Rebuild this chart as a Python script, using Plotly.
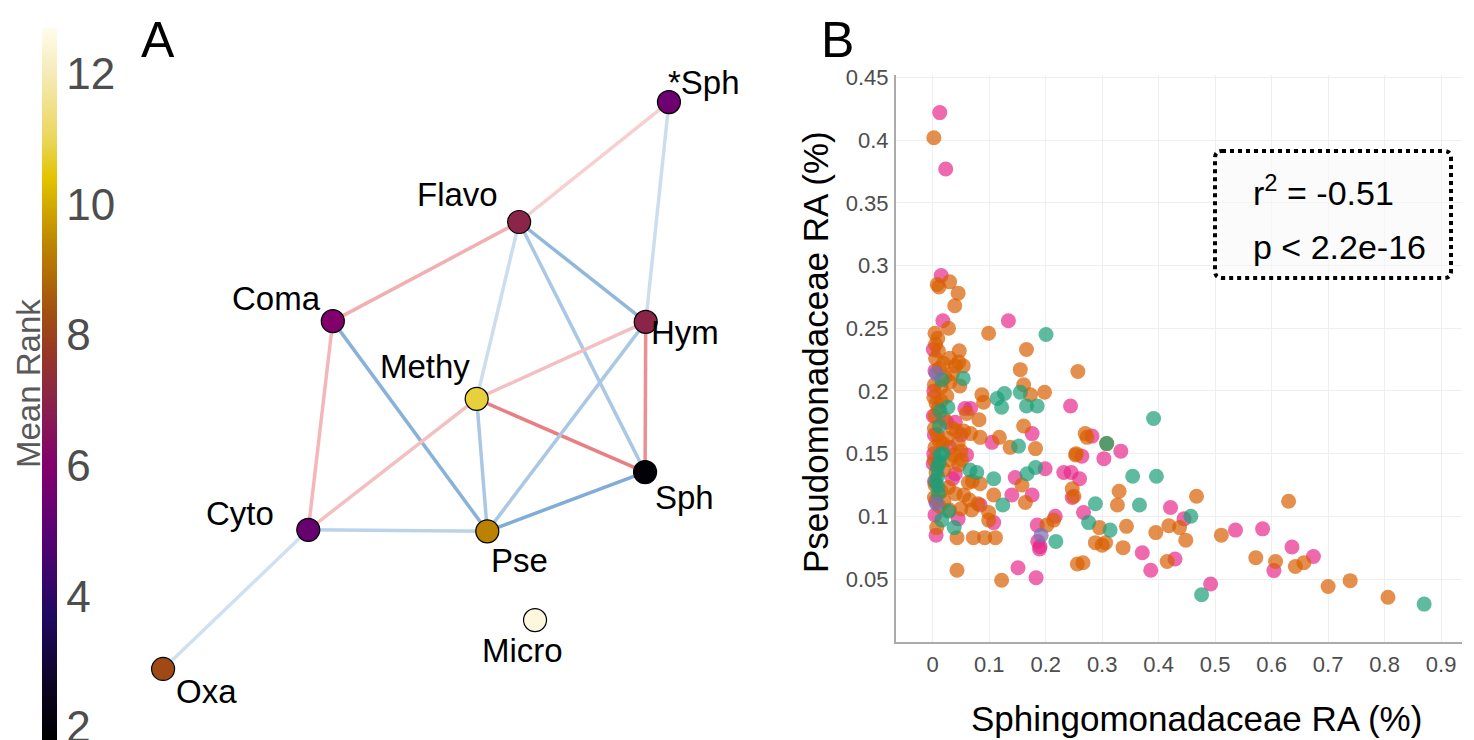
import plotly.graph_objects as go

W, H = 1474, 740
FONT = "Liberation Sans, Arial, sans-serif"
GREY = "#4d4d4d"

# ---------------- Panel A: co-occurrence network ----------------
node_names = ["*Sph", "Flavo", "Coma", "Hym", "Methy", "Sph", "Cyto", "Pse", "Micro", "Oxa"]
node_x = [0.831, 0.605, 0.324, 0.796, 0.541, 0.795, 0.287, 0.557, 0.629, 0.068]
node_y = [0.862, 0.700, 0.566, 0.565, 0.461, 0.362, 0.284, 0.282, 0.162, 0.096]
mean_rank = [5.5, 7.0, 6.0, 7.0, 10.8, 2.0, 5.3, 9.3, 12.5, 8.2]

edge_from = ["*Sph", "*Sph", "Flavo", "Flavo", "Flavo", "Flavo", "Coma", "Coma", "Methy",
             "Methy", "Methy", "Methy", "Hym", "Hym", "Sph", "Cyto", "Cyto"]
edge_to = ["Flavo", "Hym", "Coma", "Methy", "Hym", "Sph", "Cyto", "Pse", "Hym",
           "Cyto", "Pse", "Sph", "Sph", "Pse", "Pse", "Pse", "Oxa"]
edge_corr = [0.30, -0.30, 0.50, -0.30, -0.65, -0.50, 0.45, -0.70, 0.40,
             0.40, -0.50, 0.80, 0.70, -0.50, -0.75, -0.40, -0.28]

# label placement (anchor, x offset px, y offset px)
label_pos = {
    "*Sph": ("left", -3, 20), "Flavo": ("right", -19, 28), "Coma": ("right", -10, 23),
    "Hym": ("left", 3, -11), "Methy": ("right", -5, 32), "Sph": ("left", 8, -25),
    "Cyto": ("right", -32, 16), "Pse": ("left", 2, -29), "Micro": ("center", -13, -30),
    "Oxa": ("left", 11, -23),
}

rank_min, rank_max = 1.8, 12.7
rank_stops = [1.8, 2.6, 3.7, 5.0, 6.0, 7.0, 7.8, 8.4, 9.4, 10.4, 11.0, 12.0, 12.7]
rank_colors = ["#000000", "#0b0420", "#1f0a62", "#5a0272", "#82006c", "#8a2448",
               "#983a22", "#a35210", "#bd8600", "#e2c400", "#ebd65a", "#f6eab8", "#fffcec"]
colorscale = [[(v - rank_min) / (rank_max - rank_min), c] for v, c in zip(rank_stops, rank_colors)]

# ---------------- Panel B: relative abundance scatter ----------------
grp1 = [(0.2006, 0.245), (0.016, 0.209), (0.054, 0.210), (0.114, 0.194), (0.127, 0.198), (0.122, 0.187),
        (0.155, 0.199), (0.166, 0.188), (0.185, 0.188), (0.013, 0.184), (0.027, 0.187), (0.012, 0.172),
        (0.152, 0.156), (0.013, 0.149), (0.018, 0.150), (0.066, 0.137), (0.078, 0.135), (0.108, 0.130),
        (0.167, 0.134), (0.182, 0.139), (0.010, 0.118), (0.124, 0.109), (0.028, 0.104), (0.016, 0.097),
        (0.038, 0.091), (0.218, 0.080), (0.391, 0.178), (0.308, 0.158), (0.354, 0.132), (0.396, 0.132),
        (0.288, 0.110), (0.366, 0.109), (0.457, 0.100), (0.276, 0.095), (0.314, 0.089), (0.476, 0.0375),
        (0.870, 0.030), (0.009, 0.132), (0.005, 0.128), (0.009, 0.124), (0.008, 0.139), (0.012, 0.143)]
grp2 = [(0.002, 0.402), (0.008, 0.285), (0.011, 0.283), (0.030, 0.287), (0.045, 0.278), (0.039, 0.268),
        (0.028, 0.250), (0.004, 0.246), (0.009, 0.242), (0.005, 0.237), (0.010, 0.232), (0.047, 0.232),
        (0.099, 0.246), (0.166, 0.233), (0.155, 0.217), (0.257, 0.2155), (0.161, 0.205), (0.046, 0.223),
        (0.054, 0.220), (0.019, 0.222), (0.030, 0.226), (0.040, 0.220), (0.035, 0.214), (0.012, 0.218),
        (0.005, 0.226), (0.022, 0.211), (0.003, 0.205), (0.015, 0.203), (0.048, 0.204), (0.030, 0.207),
        (0.087, 0.197), (0.090, 0.191), (0.173, 0.197), (0.198, 0.199), (0.060, 0.182), (0.082, 0.177),
        (0.161, 0.172), (0.002, 0.195), (0.006, 0.190), (0.010, 0.186), (0.004, 0.180), (0.020, 0.178),
        (0.025, 0.196), (0.015, 0.192), (0.035, 0.170), (0.042, 0.168), (0.055, 0.168), (0.067, 0.166),
        (0.003, 0.170), (0.008, 0.165), (0.012, 0.160), (0.004, 0.155), (0.018, 0.158), (0.025, 0.162),
        (0.045, 0.158), (0.050, 0.152), (0.003, 0.145), (0.010, 0.142), (0.030, 0.145), (0.037, 0.149),
        (0.006, 0.135), (0.020, 0.137), (0.046, 0.141), (0.051, 0.145), (0.070, 0.128), (0.004, 0.125),
        (0.015, 0.120), (0.028, 0.123), (0.040, 0.118), (0.055, 0.117), (0.065, 0.113), (0.080, 0.110),
        (0.003, 0.115), (0.012, 0.108), (0.020, 0.112), (0.030, 0.105), (0.050, 0.106), (0.084, 0.163),
        (0.118, 0.163), (0.137, 0.155), (0.182, 0.154), (0.253, 0.149), (0.063, 0.127), (0.084, 0.126),
        (0.158, 0.125), (0.108, 0.117), (0.164, 0.111), (0.069, 0.105), (0.099, 0.103), (0.099, 0.097),
        (0.007, 0.091), (0.043, 0.083), (0.072, 0.083), (0.092, 0.083), (0.111, 0.083), (0.202, 0.093),
        (0.214, 0.097), (0.043, 0.057), (0.122, 0.049), (0.256, 0.062), (0.270, 0.166), (0.273, 0.163),
        (0.308, 0.158), (0.254, 0.150), (0.247, 0.122), (0.250, 0.116), (0.330, 0.120), (0.327, 0.109),
        (0.467, 0.116), (0.295, 0.091), (0.343, 0.092), (0.418, 0.0925), (0.437, 0.091), (0.395, 0.087),
        (0.448, 0.081), (0.288, 0.079), (0.300, 0.077), (0.306, 0.079), (0.337, 0.075), (0.511, 0.085),
        (0.572, 0.067), (0.415, 0.064), (0.266, 0.063), (0.630, 0.112), (0.607, 0.064), (0.642, 0.060),
        (0.657, 0.063), (0.700, 0.044), (0.739, 0.0487), (0.806, 0.0354)]
grp3 = [(0.006, 0.214), (0.007, 0.110), (0.192, 0.085)]
grp4 = [(0.0125, 0.422), (0.023, 0.377), (0.015, 0.292), (0.018, 0.256), (0.134, 0.256), (0.001, 0.233),
        (0.004, 0.216), (0.244, 0.188), (0.057, 0.186), (0.067, 0.186), (0.176, 0.166), (0.105, 0.159),
        (0.146, 0.131), (0.199, 0.138), (0.232, 0.135), (0.245, 0.135), (0.247, 0.115), (0.140, 0.117),
        (0.176, 0.117), (0.084, 0.109), (0.108, 0.095), (0.004, 0.101), (0.006, 0.085), (0.185, 0.093),
        (0.217, 0.100), (0.186, 0.080), (0.189, 0.074), (0.151, 0.059), (0.183, 0.051), (0.282, 0.164),
        (0.333, 0.152), (0.303, 0.146), (0.264, 0.148), (0.260, 0.130), (0.267, 0.103), (0.421, 0.107),
        (0.445, 0.098), (0.371, 0.071), (0.429, 0.066), (0.386, 0.057), (0.492, 0.046), (0.536, 0.089),
        (0.584, 0.090), (0.636, 0.0755), (0.604, 0.0567), (0.674, 0.068), (0.002, 0.200), (0.001, 0.180),
        (0.003, 0.165), (0.002, 0.150), (0.001, 0.142), (0.003, 0.128), (0.005, 0.112), (0.040, 0.175),
        (0.050, 0.165), (0.030, 0.155), (0.035, 0.130), (0.045, 0.098), (0.025, 0.175), (0.040, 0.134),
        (0.060, 0.149), (0.190, 0.076)]
group_colors = {"grp1": "#1b9e77", "grp2": "#d95f02", "grp3": "#7570b3", "grp4": "#e7298a"}
draw_order = [("grp4", grp4), ("grp2", grp2), ("grp1", grp1), ("grp3", grp3)]

x_ticks = [0, 0.1, 0.2, 0.3, 0.4, 0.5, 0.6, 0.7, 0.8, 0.9]
y_ticks = [0.05, 0.1, 0.15, 0.2, 0.25, 0.3, 0.35, 0.4, 0.45]
stat_lines = ["r<sup>2</sup> = -0.51", "p < 2.2e-16"]


def px_x(p):
    return p / W


def px_y(p):
    return 1 - p / H


def edge_color(r):
    base = (228, 95, 100) if r > 0 else (85, 145, 200)
    a = abs(r)
    c = [round(255 - a * (255 - b)) for b in base]
    return f"rgb({c[0]},{c[1]},{c[2]})"


fig = go.Figure()

# network edges
idx = {n: i for i, n in enumerate(node_names)}
for a, b, r in zip(edge_from, edge_to, edge_corr):
    i, j = idx[a], idx[b]
    fig.add_trace(go.Scatter(
        x=[node_x[i], node_x[j]], y=[node_y[i], node_y[j]], mode="lines",
        line=dict(color=edge_color(r), width=3.5), hoverinfo="skip", showlegend=False,
        xaxis="x2", yaxis="y2"))

# network nodes coloured by mean rank
fig.add_trace(go.Scatter(
    x=node_x, y=node_y, mode="markers", xaxis="x2", yaxis="y2", showlegend=False,
    text=node_names,
    marker=dict(size=23, color=mean_rank, colorscale=colorscale, cmin=rank_min, cmax=rank_max,
                line=dict(color="black", width=1.2),
                colorbar=dict(x=px_x(42), xanchor="left", y=px_y(28), yanchor="top",
                              lenmode="pixels", len=712, thicknessmode="pixels", thickness=15,
                              xpad=0, ypad=0, outlinewidth=0, ticks="",
                              tickvals=[2, 4, 6, 8, 10, 12], ticklabeloverflow="allow",
                              tickfont=dict(family=FONT, size=44, color=GREY))),
))

# scatter groups
for name, pts in draw_order:
    fig.add_trace(go.Scatter(
        x=[p[0] for p in pts], y=[p[1] for p in pts], mode="markers", name=name,
        marker=dict(size=15, color=group_colors[name], opacity=0.7, line=dict(width=0)),
        showlegend=False))

annotations = []
for n, x, y in zip(node_names, node_x, node_y):
    anc, dx, dy = label_pos[n]
    annotations.append(dict(x=x, y=y, xref="x2", yref="y2", text=n, showarrow=False,
                            xanchor=anc, yanchor="middle", xshift=dx, yshift=dy,
                            font=dict(family=FONT, size=33, color="black")))


def paper_text(px, py, text, size, color="black", angle=0, anchor="center"):
    return dict(x=px_x(px), y=px_y(py), xref="paper", yref="paper", text=text, showarrow=False,
                xanchor=anchor, yanchor="middle", textangle=angle,
                font=dict(family=FONT, size=size, color=color))


annotations += [
    paper_text(158, 40, "A", 50),
    paper_text(837, 40, "B", 50),
    paper_text(28, 384, "Mean Rank", 33, color="#595959", angle=-90),
    paper_text(1196, 718, "Sphingomonadaceae RA (%)", 35),
    paper_text(815, 352, "Pseudomonadaceae RA (%)", 35, angle=-90),
    paper_text(1251, 190, stat_lines[0], 34, anchor="left"),
    paper_text(1251, 247, stat_lines[1], 34, anchor="left"),
]

# rounded dotted frame around the statistics
bx0, bx1, by0, by1, rad = 1215, 1451, 151, 278, 7


def P(px, py):
    return f"{px_x(px):.5f},{px_y(py):.5f}"


frame_path = (f"M {P(bx0 + rad, by0)} L {P(bx1 - rad, by0)} Q {P(bx1, by0)} {P(bx1, by0 + rad)} "
              f"L {P(bx1, by1 - rad)} Q {P(bx1, by1)} {P(bx1 - rad, by1)} "
              f"L {P(bx0 + rad, by1)} Q {P(bx0, by1)} {P(bx0, by1 - rad)} "
              f"L {P(bx0, by0 + rad)} Q {P(bx0, by0)} {P(bx0 + rad, by0)} Z")

fig.update_layout(
    width=W, height=H, margin=dict(l=0, r=0, t=0, b=0, pad=0, autoexpand=False),
    paper_bgcolor="white", plot_bgcolor="rgba(0,0,0,0)",
    font=dict(family=FONT),
    showlegend=False,
    xaxis=dict(domain=[px_x(896), px_x(1462)], range=[-0.065, 0.937], tickvals=x_ticks,
               ticktext=[f"{v:g}" for v in x_ticks], showgrid=True, gridcolor="#efefef", gridwidth=1,
               zeroline=False, showline=True, linecolor="#ababab", linewidth=2, ticks="",
               ticklabelstandoff=2, tickfont=dict(family=FONT, size=22, color=GREY)),
    yaxis=dict(domain=[px_y(641.7), px_y(75)], range=[0, 0.452], tickvals=y_ticks,
               ticktext=[f"{v:g}" for v in y_ticks], showgrid=True, gridcolor="#efefef", gridwidth=1,
               zeroline=False, showline=True, linecolor="#ababab", linewidth=2, ticks="",
               ticklabelstandoff=1, tickfont=dict(family=FONT, size=22, color=GREY)),
    xaxis2=dict(domain=[px_x(118), px_x(781)], range=[0, 1], visible=False, anchor="y2"),
    yaxis2=dict(domain=[0, 1], range=[0, 1], visible=False, anchor="x2"),
    shapes=[dict(type="path", path=frame_path, xref="paper", yref="paper",
                 line=dict(color="black", width=4, dash="dot"),
                 fillcolor="rgba(248,248,248,0.55)", layer="above")],
    annotations=annotations,
)

fig.write_html("out.html")
